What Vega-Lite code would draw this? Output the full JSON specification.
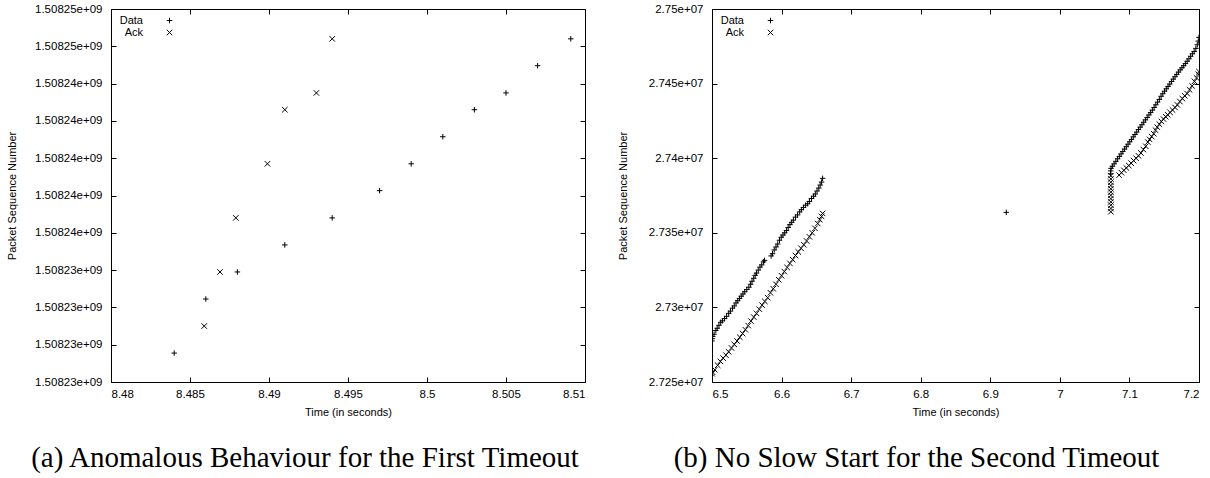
{
  "$schema": "https://vega.github.io/schema/vega-lite/v6.json",
  "padding": {"left": 6, "top": 3, "right": 0, "bottom": 0},
  "spacing": 31,
  "config": {
    "view": {"stroke": null},
    "font": "Liberation Sans",
    "axis": {"labelFont": "Liberation Sans", "labelFontSize": 11.5, "titleFont": "Liberation Sans", "titleFontSize": 11, "titleFontWeight": "normal", "labelColor": "black", "titleColor": "black", "domainColor": "black", "tickColor": "black", "domainWidth": 1, "tickWidth": 1, "tickSize": -5, "grid": false},
    "legend": {"labelFont": "Liberation Sans", "labelFontSize": 11, "labelColor": "black"}
  },
  "datasets": {
    "a": [
      {"s":"Data","t":8.4840,"v":1508229550},{"s":"Data","t":8.4860,"v":1508232450},{"s":"Data","t":8.4880,"v":1508233900},{"s":"Data","t":8.4910,"v":1508235350},{"s":"Data","t":8.4940,"v":1508236800},{"s":"Data","t":8.4970,"v":1508238260},{"s":"Data","t":8.4990,"v":1508239700},{"s":"Data","t":8.5010,"v":1508241150},{"s":"Data","t":8.5030,"v":1508242600},{"s":"Data","t":8.5050,"v":1508243500},{"s":"Data","t":8.5070,"v":1508244960},{"s":"Data","t":8.5091,"v":1508246400},
      {"s":"Ack","t":8.4859,"v":1508231000},{"s":"Ack","t":8.4869,"v":1508233900},{"s":"Ack","t":8.4879,"v":1508236800},{"s":"Ack","t":8.4899,"v":1508239700},{"s":"Ack","t":8.4910,"v":1508242600},{"s":"Ack","t":8.4930,"v":1508243500},{"s":"Ack","t":8.4940,"v":1508246400}
    ],
    "b": [
      {"s":"Data","t":6.5000,"v":27277500},{"s":"Data","t":6.5005,"v":27279000},{"s":"Data","t":6.5010,"v":27280500},{"s":"Data","t":6.5030,"v":27282000},{"s":"Data","t":6.5055,"v":27284500},{"s":"Data","t":6.5075,"v":27286000},{"s":"Data","t":6.5100,"v":27288000},{"s":"Data","t":6.5125,"v":27290000},{"s":"Data","t":6.5150,"v":27291000},{"s":"Data","t":6.5180,"v":27292500},{"s":"Data","t":6.5210,"v":27294000},{"s":"Data","t":6.5240,"v":27296000},{"s":"Data","t":6.5265,"v":27297500},{"s":"Data","t":6.5295,"v":27299500},{"s":"Data","t":6.5320,"v":27301000},{"s":"Data","t":6.5345,"v":27303000},{"s":"Data","t":6.5370,"v":27304500},{"s":"Data","t":6.5395,"v":27306000},{"s":"Data","t":6.5420,"v":27307500},{"s":"Data","t":6.5445,"v":27309000},{"s":"Data","t":6.5470,"v":27310500},{"s":"Data","t":6.5500,"v":27312000},{"s":"Data","t":6.5530,"v":27313500},{"s":"Data","t":6.5555,"v":27315500},{"s":"Data","t":6.5575,"v":27317500},{"s":"Data","t":6.5600,"v":27319500},{"s":"Data","t":6.5620,"v":27321500},{"s":"Data","t":6.5640,"v":27323000},{"s":"Data","t":6.5665,"v":27325000},{"s":"Data","t":6.5690,"v":27327000},{"s":"Data","t":6.5715,"v":27328500},{"s":"Data","t":6.5740,"v":27330500},{"s":"Data","t":6.5755,"v":27331500},{"s":"Data","t":6.5850,"v":27334500},{"s":"Data","t":6.5870,"v":27336000},{"s":"Data","t":6.5895,"v":27338500},{"s":"Data","t":6.5920,"v":27340500},{"s":"Data","t":6.5945,"v":27342500},{"s":"Data","t":6.5970,"v":27345000},{"s":"Data","t":6.5995,"v":27347000},{"s":"Data","t":6.6020,"v":27348500},{"s":"Data","t":6.6045,"v":27350000},{"s":"Data","t":6.6070,"v":27351500},{"s":"Data","t":6.6095,"v":27353500},{"s":"Data","t":6.6120,"v":27355500},{"s":"Data","t":6.6145,"v":27357000},{"s":"Data","t":6.6170,"v":27358500},{"s":"Data","t":6.6200,"v":27360500},{"s":"Data","t":6.6230,"v":27362000},{"s":"Data","t":6.6260,"v":27364000},{"s":"Data","t":6.6285,"v":27365500},{"s":"Data","t":6.6315,"v":27367000},{"s":"Data","t":6.6345,"v":27368500},{"s":"Data","t":6.6375,"v":27369500},{"s":"Data","t":6.6400,"v":27371000},{"s":"Data","t":6.6430,"v":27373000},{"s":"Data","t":6.6460,"v":27374500},{"s":"Data","t":6.6485,"v":27376000},{"s":"Data","t":6.6510,"v":27378000},{"s":"Data","t":6.6535,"v":27380000},{"s":"Data","t":6.6555,"v":27382000},{"s":"Data","t":6.6575,"v":27384000},{"s":"Data","t":6.6590,"v":27386500},
      {"s":"Data","t":6.9230,"v":27363700},
      {"s":"Data","t":7.0730,"v":27389500},{"s":"Data","t":7.0732,"v":27391500},{"s":"Data","t":7.0735,"v":27393200},{"s":"Data","t":7.0755,"v":27394600},{"s":"Data","t":7.0780,"v":27396200},{"s":"Data","t":7.0805,"v":27397900},{"s":"Data","t":7.0830,"v":27399600},{"s":"Data","t":7.0855,"v":27401200},{"s":"Data","t":7.0880,"v":27402900},{"s":"Data","t":7.0905,"v":27404500},{"s":"Data","t":7.0930,"v":27406100},{"s":"Data","t":7.0955,"v":27407700},{"s":"Data","t":7.0980,"v":27409400},{"s":"Data","t":7.1005,"v":27411000},{"s":"Data","t":7.1030,"v":27412600},{"s":"Data","t":7.1055,"v":27414300},{"s":"Data","t":7.1080,"v":27415900},{"s":"Data","t":7.1105,"v":27417500},{"s":"Data","t":7.1130,"v":27419200},{"s":"Data","t":7.1155,"v":27420800},{"s":"Data","t":7.1180,"v":27422400},{"s":"Data","t":7.1205,"v":27424100},{"s":"Data","t":7.1230,"v":27425700},{"s":"Data","t":7.1255,"v":27427300},{"s":"Data","t":7.1280,"v":27429000},{"s":"Data","t":7.1305,"v":27430600},{"s":"Data","t":7.1330,"v":27432200},{"s":"Data","t":7.1355,"v":27434000},{"s":"Data","t":7.1380,"v":27435800},{"s":"Data","t":7.1405,"v":27437600},{"s":"Data","t":7.1430,"v":27439400},{"s":"Data","t":7.1455,"v":27441500},{"s":"Data","t":7.1480,"v":27443200},{"s":"Data","t":7.1505,"v":27444900},{"s":"Data","t":7.1530,"v":27446500},{"s":"Data","t":7.1555,"v":27448100},{"s":"Data","t":7.1580,"v":27449700},{"s":"Data","t":7.1605,"v":27451400},{"s":"Data","t":7.1630,"v":27453000},{"s":"Data","t":7.1655,"v":27454600},{"s":"Data","t":7.1680,"v":27456200},{"s":"Data","t":7.1705,"v":27457700},{"s":"Data","t":7.1730,"v":27459200},{"s":"Data","t":7.1755,"v":27460600},{"s":"Data","t":7.1780,"v":27462000},{"s":"Data","t":7.1805,"v":27463400},{"s":"Data","t":7.1830,"v":27465000},{"s":"Data","t":7.1855,"v":27466600},{"s":"Data","t":7.1880,"v":27468300},{"s":"Data","t":7.1905,"v":27470000},{"s":"Data","t":7.1930,"v":27471500},{"s":"Data","t":7.1955,"v":27473600},{"s":"Data","t":7.1975,"v":27476000},{"s":"Data","t":7.1990,"v":27478500},{"s":"Data","t":7.2000,"v":27481000},
      {"s":"Ack","t":6.5000,"v":27255600},{"s":"Ack","t":6.5010,"v":27256500},{"s":"Ack","t":6.5040,"v":27258200},{"s":"Ack","t":6.5082,"v":27261200},{"s":"Ack","t":6.5120,"v":27263800},{"s":"Ack","t":6.5160,"v":27266000},{"s":"Ack","t":6.5200,"v":27268000},{"s":"Ack","t":6.5240,"v":27270200},{"s":"Ack","t":6.5280,"v":27272800},{"s":"Ack","t":6.5320,"v":27275200},{"s":"Ack","t":6.5360,"v":27277500},{"s":"Ack","t":6.5400,"v":27280000},{"s":"Ack","t":6.5440,"v":27282500},{"s":"Ack","t":6.5480,"v":27285000},{"s":"Ack","t":6.5520,"v":27287800},{"s":"Ack","t":6.5560,"v":27290800},{"s":"Ack","t":6.5600,"v":27293500},{"s":"Ack","t":6.5640,"v":27296000},{"s":"Ack","t":6.5680,"v":27298800},{"s":"Ack","t":6.5720,"v":27301500},{"s":"Ack","t":6.5760,"v":27304000},{"s":"Ack","t":6.5800,"v":27306500},{"s":"Ack","t":6.5840,"v":27309800},{"s":"Ack","t":6.5880,"v":27312500},{"s":"Ack","t":6.5920,"v":27315500},{"s":"Ack","t":6.5960,"v":27318500},{"s":"Ack","t":6.6000,"v":27321200},{"s":"Ack","t":6.6040,"v":27324000},{"s":"Ack","t":6.6080,"v":27326800},{"s":"Ack","t":6.6120,"v":27329500},{"s":"Ack","t":6.6160,"v":27332000},{"s":"Ack","t":6.6200,"v":27334800},{"s":"Ack","t":6.6240,"v":27337200},{"s":"Ack","t":6.6280,"v":27339600},{"s":"Ack","t":6.6320,"v":27342000},{"s":"Ack","t":6.6360,"v":27344500},{"s":"Ack","t":6.6400,"v":27347300},{"s":"Ack","t":6.6440,"v":27350000},{"s":"Ack","t":6.6480,"v":27353000},{"s":"Ack","t":6.6520,"v":27356200},{"s":"Ack","t":6.6550,"v":27358800},{"s":"Ack","t":6.6575,"v":27361000},{"s":"Ack","t":6.6590,"v":27363000},
      {"s":"Ack","t":7.0733,"v":27364100},{"s":"Ack","t":7.0733,"v":27366300},{"s":"Ack","t":7.0733,"v":27368500},{"s":"Ack","t":7.0733,"v":27370700},{"s":"Ack","t":7.0733,"v":27372900},{"s":"Ack","t":7.0733,"v":27375100},{"s":"Ack","t":7.0733,"v":27377300},{"s":"Ack","t":7.0733,"v":27379500},{"s":"Ack","t":7.0733,"v":27381700},{"s":"Ack","t":7.0733,"v":27383900},{"s":"Ack","t":7.0733,"v":27386100},{"s":"Ack","t":7.0733,"v":27388300},
      {"s":"Ack","t":7.0852,"v":27388700},{"s":"Ack","t":7.0885,"v":27390300},{"s":"Ack","t":7.0920,"v":27391900},{"s":"Ack","t":7.0955,"v":27393500},{"s":"Ack","t":7.0990,"v":27395100},{"s":"Ack","t":7.1025,"v":27396700},{"s":"Ack","t":7.1060,"v":27398400},{"s":"Ack","t":7.1095,"v":27400000},{"s":"Ack","t":7.1130,"v":27401600},{"s":"Ack","t":7.1165,"v":27403500},{"s":"Ack","t":7.1200,"v":27405800},{"s":"Ack","t":7.1235,"v":27408000},{"s":"Ack","t":7.1265,"v":27410800},{"s":"Ack","t":7.1290,"v":27412600},{"s":"Ack","t":7.1320,"v":27414500},{"s":"Ack","t":7.1350,"v":27416400},{"s":"Ack","t":7.1375,"v":27418800},{"s":"Ack","t":7.1400,"v":27420800},{"s":"Ack","t":7.1430,"v":27422800},{"s":"Ack","t":7.1460,"v":27424600},{"s":"Ack","t":7.1490,"v":27426200},{"s":"Ack","t":7.1520,"v":27427800},{"s":"Ack","t":7.1550,"v":27429100},{"s":"Ack","t":7.1585,"v":27430700},{"s":"Ack","t":7.1620,"v":27432300},{"s":"Ack","t":7.1655,"v":27434000},{"s":"Ack","t":7.1690,"v":27435700},{"s":"Ack","t":7.1725,"v":27438000},{"s":"Ack","t":7.1760,"v":27440000},{"s":"Ack","t":7.1795,"v":27441800},{"s":"Ack","t":7.1830,"v":27443300},{"s":"Ack","t":7.1865,"v":27445800},{"s":"Ack","t":7.1900,"v":27448500},{"s":"Ack","t":7.1935,"v":27451500},{"s":"Ack","t":7.1965,"v":27453800},{"s":"Ack","t":7.1990,"v":27456300},{"s":"Ack","t":7.2000,"v":27458000}
    ]
  },
  "hconcat": [
    {
      "width": 474, "height": 373,
      "title": {"text": "(a) Anomalous Behaviour for the First Timeout", "orient": "bottom", "anchor": "middle", "frame": "bounds", "font": "Liberation Serif", "fontSize": 29, "fontWeight": "normal", "color": "black", "offset": 26, "dx": 9},
      "data": {"name": "a"},
      "layer": [
        {
          "mark": {"type": "point", "filled": false, "color": "black", "strokeWidth": 1, "size": 30, "opacity": 1, "clip": true},
          "encoding": {
            "x": {"field": "t", "type": "quantitative", "scale": {"domain": [8.48, 8.51], "nice": false, "zero": false},
                  "axis": {"orient": "bottom", "values": [8.48, 8.485, 8.49, 8.495, 8.5, 8.505, 8.51], "format": "~g", "title": "Time (in seconds)", "labelPadding": 11, "titlePadding": 7}},
            "y": {"field": "v", "type": "quantitative", "scale": {"domain": [1508228000, 1508248000], "nice": false, "zero": false},
                  "axis": {"orient": "left", "values": [1508228000, 1508230000, 1508232000, 1508234000, 1508236000, 1508238000, 1508240000, 1508242000, 1508244000, 1508246000, 1508248000], "labelExpr": "replace(format(datum.value, '.5e'), 'e+9', 'e+09')", "title": "Packet Sequence Number", "labelPadding": 14, "titlePadding": 17}},
            "shape": {"field": "s", "type": "nominal", "scale": {"domain": ["Data", "Ack"], "range": ["M-1,0L1,0M0,-1L0,1", "M-1,-1L1,1M-1,1L1,-1"]},
                      "legend": {"title": null, "orient": "top-left", "offset": 6, "padding": 0, "labelAlign": "right", "labelOffset": -32, "symbolOffset": 47, "rowPadding": 0, "symbolSize": 30, "symbolStrokeWidth": 1, "symbolStrokeColor": "black"}}
          }
        },
        {
          "mark": {"type": "point", "opacity": 0},
          "encoding": {
            "x": {"field": "t", "type": "quantitative", "scale": {"domain": [8.48, 8.51], "nice": false, "zero": false},
                  "axis": {"orient": "top", "values": [8.48, 8.485, 8.49, 8.495, 8.5, 8.505, 8.51], "labels": false, "title": null}},
            "y": {"field": "v", "type": "quantitative", "scale": {"domain": [1508228000, 1508248000], "nice": false, "zero": false},
                  "axis": {"orient": "right", "values": [1508228000, 1508230000, 1508232000, 1508234000, 1508236000, 1508238000, 1508240000, 1508242000, 1508244000, 1508246000, 1508248000], "labels": false, "title": null}}
          }
        }
      ],
      "resolve": {"axis": {"x": "independent", "y": "independent"}}
    },
    {
      "width": 487, "height": 373,
      "title": {"text": "(b) No Slow Start for the Second Timeout", "orient": "bottom", "anchor": "middle", "frame": "bounds", "font": "Liberation Serif", "fontSize": 29, "fontWeight": "normal", "color": "black", "offset": 26, "dx": 7},
      "data": {"name": "b"},
      "layer": [
        {
          "mark": {"type": "point", "filled": false, "color": "black", "strokeWidth": 1, "size": 30, "opacity": 1, "clip": true},
          "encoding": {
            "x": {"field": "t", "type": "quantitative", "scale": {"domain": [6.5, 7.2], "nice": false, "zero": false},
                  "axis": {"orient": "bottom", "values": [6.5, 6.6, 6.7, 6.8, 6.9, 7, 7.1, 7.2], "format": "~g", "title": "Time (in seconds)", "labelPadding": 11, "titlePadding": 7}},
            "y": {"field": "v", "type": "quantitative", "scale": {"domain": [27250000, 27500000], "nice": false, "zero": false},
                  "axis": {"orient": "left", "values": [27250000, 27300000, 27350000, 27400000, 27450000, 27500000], "labelExpr": "replace(format(datum.value, '~e'), 'e+7', 'e+07')", "title": "Packet Sequence Number", "labelPadding": 14, "titlePadding": 20}},
            "shape": {"field": "s", "type": "nominal", "scale": {"domain": ["Data", "Ack"], "range": ["M-1,0L1,0M0,-1L0,1", "M-1,-1L1,1M-1,1L1,-1"]},
                      "legend": {"title": null, "orient": "top-left", "offset": 6, "padding": 0, "labelAlign": "right", "labelOffset": -32, "symbolOffset": 47, "rowPadding": 0, "symbolSize": 30, "symbolStrokeWidth": 1, "symbolStrokeColor": "black"}}
          }
        },
        {
          "mark": {"type": "point", "opacity": 0},
          "encoding": {
            "x": {"field": "t", "type": "quantitative", "scale": {"domain": [6.5, 7.2], "nice": false, "zero": false},
                  "axis": {"orient": "top", "values": [6.5, 6.6, 6.7, 6.8, 6.9, 7, 7.1, 7.2], "labels": false, "title": null}},
            "y": {"field": "v", "type": "quantitative", "scale": {"domain": [27250000, 27500000], "nice": false, "zero": false},
                  "axis": {"orient": "right", "values": [27250000, 27300000, 27350000, 27400000, 27450000, 27500000], "labels": false, "title": null}}
          }
        }
      ],
      "resolve": {"axis": {"x": "independent", "y": "independent"}}
    }
  ],
  "resolve": {"scale": {"shape": "independent"}, "legend": {"shape": "independent"}}
}
